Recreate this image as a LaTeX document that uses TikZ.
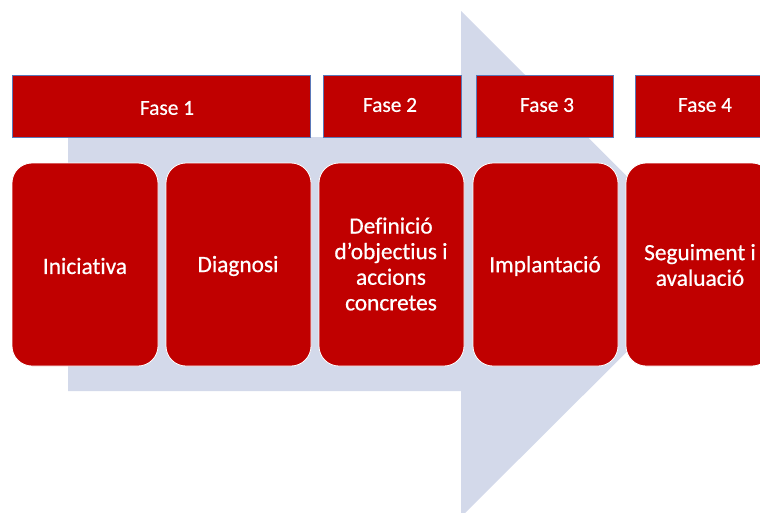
\documentclass[tikz,border=0pt]{standalone}
\usepackage{fontspec}
\setmainfont{Carlito}[Ligatures=NoCommon, FakeBold=0.6]
\usetikzlibrary{fit}
\definecolor{faseRed}{HTML}{C00000}
\definecolor{arrowBlue}{HTML}{D3D9EA}
\definecolor{barEdge}{HTML}{5A78B8}
\begin{document}
\begin{tikzpicture}[x=0.75pt,y=-0.75pt,
  phasebar/.style={fill=faseRed, draw=barEdge, line width=0.5pt, inner sep=0pt},
  phaselabel/.style={text=white, font=\fontsize{16}{19}\selectfont, inner sep=0pt},
  stagebox/.style={fill=faseRed, draw=white, line width=0.6pt, rounded corners=15pt, inner sep=0pt},
  stagelabel/.style={text=white, font=\fontsize{17.5}{19.2}\selectfont, align=center, inner sep=0pt}]
\useasboundingbox (0,0) rectangle (760,512);
\clip (0,0) rectangle (760,512);

% large process arrow in the background
\fill[arrowBlue] (68,137) -- (461,137) -- (461,11) -- (715,264) -- (461,517)
  -- (461,391) -- (68,391) -- cycle;

% phase headers
\node[phasebar, fit={(12,75) (310,137)}] (f1) {};
\node[phasebar, fit={(323,75) (461,137)}] (f2) {};
\node[phasebar, fit={(476,75) (613,137)}] (f3) {};
\node[phasebar, fit={(635,75) (772,137)}] (f4) {};
\node[phaselabel] (f1t) at (167,108) {Fase 1};
\node[phaselabel] (f2t) at (390,105) {Fase 2};
\node[phaselabel] (f3t) at (547,105) {Fase 3};
\node[phaselabel] (f4t) at (705,105) {Fase 4};

% stages
\node[stagebox, fit={(12,163) (158,366)}] (s1) {};
\node[stagebox, fit={(166,163) (311,366)}] (s2) {};
\node[stagebox, fit={(319,163) (464,366)}] (s3) {};
\node[stagebox, fit={(473,163) (618,366)}] (s4) {};
\node[stagebox, fit={(626,163) (772,366)}] (s5) {};
\node[stagelabel] (s1t) at (85,266) {Iniciativa};
\node[stagelabel] (s2t) at (238,266) {Diagnosi};
\node[stagelabel] (s3t) at (391,264) {Definició\\d’objectius i\\accions\\concretes};
\node[stagelabel] (s4t) at (545,266) {Implantació};
\node[stagelabel] (s5t) at (700,265) {Seguiment i\\avaluació};
\end{tikzpicture}
\end{document}
